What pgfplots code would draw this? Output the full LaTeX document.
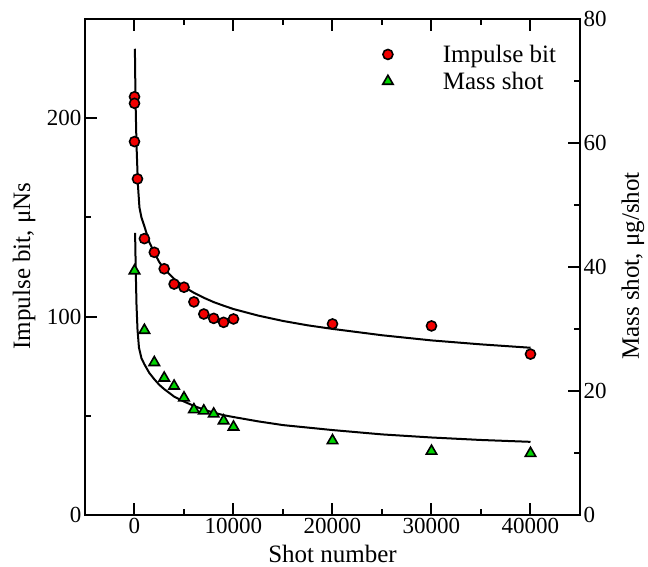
\documentclass[border=0pt]{standalone}
\usepackage{fontspec}
\setmainfont{Liberation Serif}
\usepackage{pgfplots}
\pgfplotsset{compat=1.18}
\definecolor{ibred}{HTML}{F20000}
\definecolor{msgreen}{HTML}{00D400}

\pgfplotsset{
  common/.style={
    scale only axis, width=495pt, height=496pt,
    at={(0,0)}, anchor=south west,
    xmin=-5000, xmax=45000,
    xtick={0,10000,20000,30000,40000},
    minor xtick={5000,15000,25000,35000},
    scaled x ticks=false,
    tick align=inside,
    major tick length=12pt, minor tick length=6pt,
    tick style={line width=2pt, black},
    axis line style={line width=2.5pt},
    tick label style={font=\fontsize{23}{26}\selectfont},
    label style={font=\fontsize{25}{29}\selectfont},
    /pgf/number format/1000 sep={},
    /pgf/number format/assume math mode=true,
  },
  impmark/.style={only marks, mark=*, mark size=5pt,
    mark options={fill=ibred, draw=black, line width=1.6pt}},
  masmark/.style={only marks, mark=triangle*, mark size=6pt,
    mark options={fill=msgreen, draw=black, line width=1.6pt}},
  fitline/.style={black, line width=2pt, mark=none, forget plot},
}

\begin{document}
\begin{tikzpicture}
% impulse bit, left axis
\begin{axis}[common,
  ymin=0, ymax=250,
  ytick={0,100,200}, minor ytick={50,150,250},
  ytick pos=left,
  xlabel={Shot number},
  xlabel style={yshift=-4pt},
  ylabel={Impulse bit, μNs},
  ylabel style={at={(axis description cs:-0.123,0.502)}, anchor=center},
]
\addplot[impmark, forget plot] coordinates {
  (0,210.8) (0,207.5) (0,188.2) (300,169.4) (1000,139.3) (2000,132.4)
  (3000,124.1) (4000,116.4) (5000,114.8) (6000,107.4) (7000,101.3)
  (8000,99.1) (9000,97.1) (10000,98.8) (20000,96.3) (30000,95.3)
  (40000,81.1)
};
\addplot[fitline] coordinates {
  (40,235) (100,210) (200,187) (350,166) (500,155) (700,150) (1000,145.5)
  (1500,137.5) (2000,132.2) (2500,127.5) (3000,124) (4000,119) (5000,115)
  (6000,112) (7000,109.5) (8000,107.3) (9000,105.5) (10000,103.8)
  (12500,100.5) (15000,97.8) (17500,95.6) (20000,93.8) (25000,90.6)
  (30000,88) (35000,86) (40000,84.3)
};
\end{axis}
% mass shot, right axis
\begin{axis}[common,
  ymin=0, ymax=80,
  ytick={0,20,40,60,80}, minor ytick={10,30,50,70},
  axis y line*=right, axis x line=none,
  ylabel={Mass shot, μg/shot},
  ylabel style={at={(axis description cs:1.107,0.502)}, anchor=center},
  legend style={draw=none, fill=none, at={(rel axis cs:0.595,0.956)},
    anchor=north west, font=\fontsize{25}{29}\selectfont, row sep=4pt},
  legend cell align=left,
  legend image code/.code={\path[draw=none, fill=none] (0pt,0pt) (53pt,0pt);
    \draw[#1] plot coordinates {(0pt,0pt)};},
]
\addlegendimage{impmark}
\addlegendentry{Impulse bit}
\addplot[masmark] coordinates {
  (0,39.4) (1000,29.8) (2000,24.6) (3000,22.1) (4000,20.8) (5000,18.9)
  (6000,17.0) (7000,16.8) (8000,16.3) (9000,15.2) (10000,14.2)
  (20000,12.0) (30000,10.3) (40000,9.95)
};
\addlegendentry{Mass shot}
\addplot[fitline] coordinates {
  (60,45.5) (120,40) (200,34) (300,30) (450,27) (700,25.3) (1000,24.3)
  (1500,22.9) (2000,21.9) (2500,21) (3000,20.3) (4000,19.1) (5000,18.3)
  (6000,17.6) (7000,17) (8000,16.5) (9000,16.1) (10000,15.8)
  (12500,15.1) (15000,14.5) (17500,14.1) (20000,13.7) (25000,13)
  (30000,12.5) (35000,12.1) (40000,11.8)
};
\end{axis}
\path (-85pt,-52pt) rectangle (563pt,515pt);
\end{tikzpicture}
\end{document}
